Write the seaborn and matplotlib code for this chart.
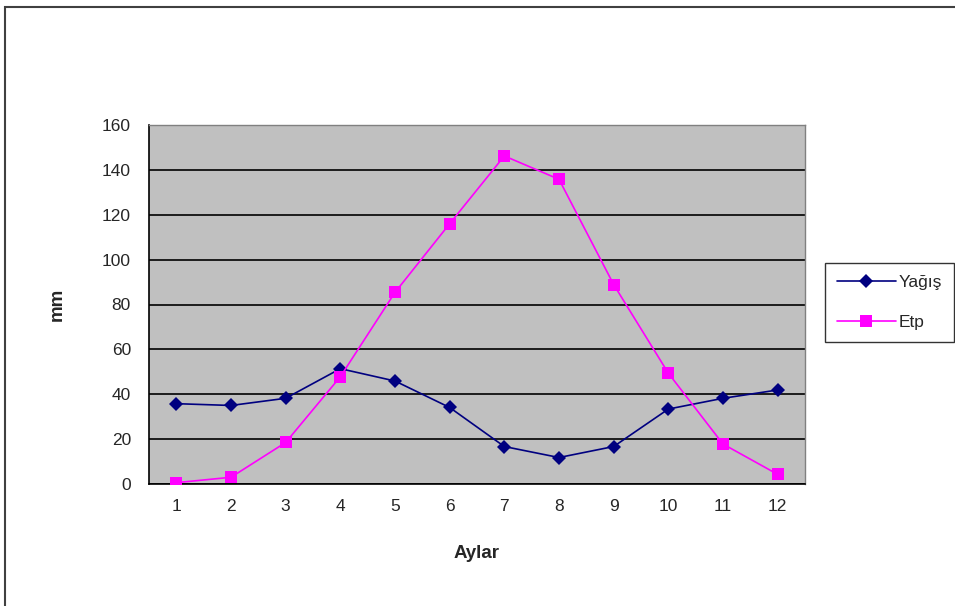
import matplotlib
matplotlib.use("Agg")
import matplotlib.pyplot as plt
import numpy as np
import pandas as pd
import seaborn as sns
from matplotlib.patches import Rectangle

# monthly values
months = list(range(1, 13))
yagis = [35.8, 35.0, 38.2, 51.4, 45.9, 34.1, 16.7, 11.8, 16.7, 33.4, 38.2, 41.9]
etp = [0.6, 3.0, 18.5, 47.8, 85.4, 116.0, 146.2, 135.8, 88.9, 49.4, 17.8, 4.3]
y_ticks = [0, 20, 40, 60, 80, 100, 120, 140, 160]

df = pd.DataFrame({
    "Ay": months * 2,
    "mm": yagis + etp,
    "seri": ["Yağış"] * 12 + ["Etp"] * 12,
})

sns.set_style("white")
plt.rcParams["font.family"] = ["Liberation Sans", "DejaVu Sans"]

fig = plt.figure(figsize=(9.55, 6.06), dpi=100)
ax = fig.add_axes([149 / 955, 1 - 484 / 606, (805 - 149) / 955, (484 - 125) / 606])
ax.set_facecolor("#C0C0C0")

palette = {"Yağış": "#000080", "Etp": "#FF00FF"}
markers = {"Yağış": "D", "Etp": "s"}
msize = {"#000080": 7.5, "#FF00FF": 8.5}
sns.lineplot(data=df, x="Ay", y="mm", hue="seri", style="seri",
             palette=palette, markers=markers, dashes=False,
             markersize=8, linewidth=1.2, markeredgewidth=0, ax=ax, zorder=3)
for ln in ax.lines:
    c = matplotlib.colors.to_hex(ln.get_color()).upper()
    if c in msize:
        ln.set_markersize(msize[c])

ax.set_xlim(0.5, 12.5)
ax.set_ylim(0, 160)
ax.set_yticks(y_ticks)
ax.set_xticks(months)
ax.set_xticklabels([str(m) for m in months])
ax.set_xticks(np.arange(0.5, 13, 1), minor=True)
ax.tick_params(axis="x", which="major", length=0, pad=11, labelsize=12.5)
ax.tick_params(axis="x", which="minor", length=5, width=1, color="black", direction="out")
ax.tick_params(axis="y", length=5, width=1, color="black", direction="out", labelsize=12.5, pad=8)
ax.yaxis.grid(True, color="black", linewidth=1.2)
ax.set_axisbelow(True)

for side in ["left", "bottom"]:
    ax.spines[side].set_color("black")
    ax.spines[side].set_linewidth(1.2)
for side in ["top", "right"]:
    ax.spines[side].set_color("#808080")
    ax.spines[side].set_linewidth(1)

ax.set_xlabel("Aylar", fontsize=13.5, fontweight="bold", labelpad=22)
ax.set_ylabel("mm", fontsize=13.5, fontweight="bold", labelpad=26)

handles, labels = ax.get_legend_handles_labels()
for h in handles:
    c = matplotlib.colors.to_hex(h.get_color()).upper()
    if c in msize:
        h.set_markersize(msize[c])
leg = fig.legend(handles, labels, loc="upper left",
                 bbox_to_anchor=(825 / 955, 1 - 263 / 606),
                 frameon=True, fancybox=False, edgecolor="black",
                 fontsize=12.5, handlelength=3.4, borderpad=0.68,
                 labelspacing=1.45, handletextpad=0.15, borderaxespad=0)
leg.get_frame().set_linewidth(1)
if ax.get_legend():
    ax.get_legend().remove()

# outer chart border
fig.patches.append(Rectangle((5 / 955, -0.05), 1.1, 1 - 7 / 606 + 0.05,
                             transform=fig.transFigure, fill=False,
                             edgecolor="#404040", linewidth=1.5))

fig.savefig("out.png", dpi=100)
